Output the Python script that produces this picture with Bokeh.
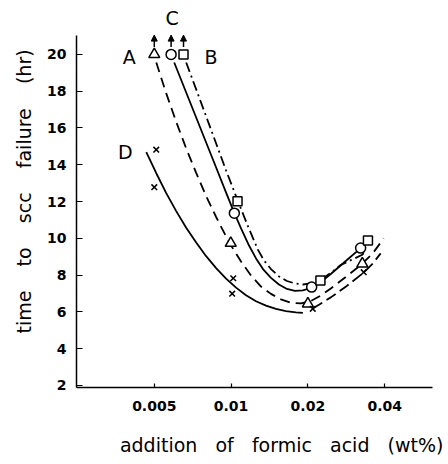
from bokeh.plotting import figure
from bokeh.models import FixedTicker, Label, Arrow, NormalHead, CustomJSTickFormatter, Title
from bokeh.embed import file_html
from bokeh.resources import INLINE

# Measured failure times (hr) vs formic acid addition (wt%)
a_x = [0.005, 0.00997, 0.0200, 0.0327]
a_y = [20.0, 9.74, 6.44, 8.62]
c_x = [0.00582, 0.0103, 0.0207, 0.0322]
c_y = [20.0, 11.37, 7.35, 9.47]
b_x = [0.00651, 0.0106, 0.0224, 0.0344]
b_y = [20.0, 12.02, 7.71, 9.88]
d_x = [0.00509, 0.0050, 0.0102, 0.0101, 0.0209, 0.0331]
d_y = [14.82, 12.78, 7.83, 6.99, 6.17, 8.16]

# Hand-drawn trend curves through each series
a_curve_x = [0.005091, 0.005570, 0.006095, 0.006669, 0.007298, 0.007985, 0.008738, 0.009560,
             0.01000, 0.010942, 0.011973, 0.013100, 0.014335, 0.015685, 0.017162, 0.018780,
             0.020548, 0.022483, 0.024600, 0.028157, 0.032228, 0.035906, 0.03964]
a_curve_y = [19.56, 17.88, 16.33, 14.89, 13.56, 12.30, 11.16, 10.10,
             9.61, 8.74, 7.98, 7.38, 6.98, 6.68, 6.50, 6.46,
             6.59, 6.89, 7.27, 7.90, 8.55, 9.18, 9.99]
c_curve_x = [0.005986, 0.006669, 0.007298, 0.007985, 0.008738, 0.009560, 0.010274, 0.010942,
             0.011760, 0.012524, 0.013339, 0.014335, 0.015406, 0.016555, 0.017793, 0.019121,
             0.020548, 0.022483, 0.024600, 0.028157, 0.032228]
c_curve_y = [19.56, 17.93, 16.57, 15.21, 13.85, 12.49, 11.41, 10.54,
             9.61, 8.91, 8.33, 7.85, 7.49, 7.25, 7.14, 7.17,
             7.30, 7.63, 8.06, 8.77, 9.47]
b_curve_x = [0.006669, 0.007298, 0.007985, 0.008738, 0.009560, 0.010649, 0.011654, 0.012752,
             0.013459, 0.014335, 0.015406, 0.016555, 0.017793, 0.019121, 0.020548, 0.022281,
             0.024600, 0.026918, 0.032818, 0.034326]
b_curve_y = [19.56, 18.10, 16.63, 15.16, 13.69, 12.01, 10.65, 9.37,
             8.80, 8.33, 7.93, 7.68, 7.55, 7.49, 7.55, 7.71,
             8.12, 8.55, 9.12, 9.88]
d_curve_x = [0.004652, 0.005091, 0.005570, 0.006095, 0.006669, 0.007298, 0.007985, 0.008738,
             0.009560, 0.010460, 0.011446, 0.012524, 0.013704, 0.014995, 0.016407, 0.017953,
             0.019121]
d_curve_y = [14.69, 13.54, 12.46, 11.48, 10.58, 9.77, 9.03, 8.38,
             7.81, 7.32, 6.91, 6.58, 6.34, 6.16, 6.04, 5.98,
             5.95]
d_tail_x = [0.020919, 0.024600, 0.028411, 0.033113, 0.035906, 0.038586]
d_tail_y = [6.19, 6.79, 7.41, 8.14, 8.63, 9.18]

x_ticks = [0.005, 0.01, 0.02, 0.04]
y_ticks = [2, 4, 6, 8, 10, 12, 14, 16, 18, 20]

FONT = "DejaVu Sans"
NB = "\u00a0"  # non-breaking space keeps the wide word gaps in SVG text

p = figure(width=448, height=464, x_axis_type="log",
           x_range=(0.002478, 0.0616), y_range=(1.89, 22.66),
           output_backend="svg", toolbar_location=None,
           min_border_left=75, min_border_right=16, min_border_top=5, min_border_bottom=77)
p.grid.visible = False
p.outline_line_color = None
p.background_fill_color = "white"
p.border_fill_color = "white"

for ax in (p.xaxis[0], p.yaxis[0]):
    ax.axis_line_color = "black"
    ax.axis_line_width = 1.5
    ax.major_tick_line_color = "black"
    ax.major_tick_line_width = 1.2
    ax.major_tick_out = 0
    ax.minor_tick_line_color = None
    ax.major_label_text_font = FONT
    ax.major_label_text_font_style = "bold"
    ax.major_label_text_font_size = "14px"
    ax.major_label_text_color = "black"

p.xaxis.ticker = FixedTicker(ticks=x_ticks)
p.xaxis.formatter = CustomJSTickFormatter(code="return tick.toString();")
p.xaxis.major_tick_in = 4
p.xaxis.major_label_standoff = 13
p.yaxis.ticker = FixedTicker(ticks=y_ticks)
p.yaxis.bounds = (1.89, 21.03)
p.yaxis.major_tick_in = 6
p.yaxis.major_label_standoff = 10

# x title: leading no-break spaces move the centred text right of the frame centre
gap3 = NB * 3
gap4 = NB * 4
p.xaxis.axis_label = NB * 9 + gap3.join(["addition", "of", "formic", "acid", "(wt%)"])
p.xaxis.axis_label_standoff = 20
p.xaxis.axis_label_text_font = FONT
p.xaxis.axis_label_text_font_size = "19px"
p.xaxis.axis_label_text_font_style = "normal"
p.xaxis.axis_label_text_color = "black"

LW = 1.8
p.line(a_curve_x, a_curve_y, line_color="black", line_width=LW, line_dash="10 6")
p.line(c_curve_x, c_curve_y, line_color="black", line_width=LW)
p.line(b_curve_x, b_curve_y, line_color="black", line_width=LW, line_dash="10 4 2 4")
p.line(d_curve_x, d_curve_y, line_color="black", line_width=LW)
p.line(d_tail_x, d_tail_y, line_color="black", line_width=LW, line_dash="11 5")

# upward arrows: failure time beyond 20 hr
for xs, ys in ((a_x, a_y), (c_x, c_y), (b_x, b_y)):
    p.add_layout(Arrow(end=NormalHead(size=6, fill_color="black", line_color="black"),
                       x_start=xs[0], y_start=ys[0] + 0.4, x_end=xs[0], y_end=ys[0] + 1.05,
                       line_color="black", line_width=1.5))

p.scatter(a_x, a_y, marker="triangle", size=11, fill_color="white", line_color="black", line_width=1.5)
p.scatter(c_x, c_y, marker="circle", size=10, fill_color="white", line_color="black", line_width=1.5)
p.scatter(b_x, b_y, marker="square", size=9, fill_color="white", line_color="black", line_width=1.5)
p.scatter(d_x, d_y, marker="x", size=8, line_color="black", line_width=1.5)

# curve letters
for txt, lx, ly in (("A", 0.00399, 19.84), ("B", 0.00835, 19.84),
                    ("C", 0.00588, 21.96), ("D", 0.00385, 14.67)):
    p.add_layout(Label(x=lx, y=ly, text=txt, text_font=FONT, text_font_size="19px",
                       text_align="center", text_baseline="middle", text_color="black"))

p.add_layout(Title(text=gap4.join(["time", "to", "scc", "failure", "(hr)"]),
                   align="left", offset=54, standoff=20, text_font=FONT, text_font_size="19px",
                   text_font_style="normal", text_color="black"), "left")

open("out.html", "w").write(file_html(p, INLINE))
